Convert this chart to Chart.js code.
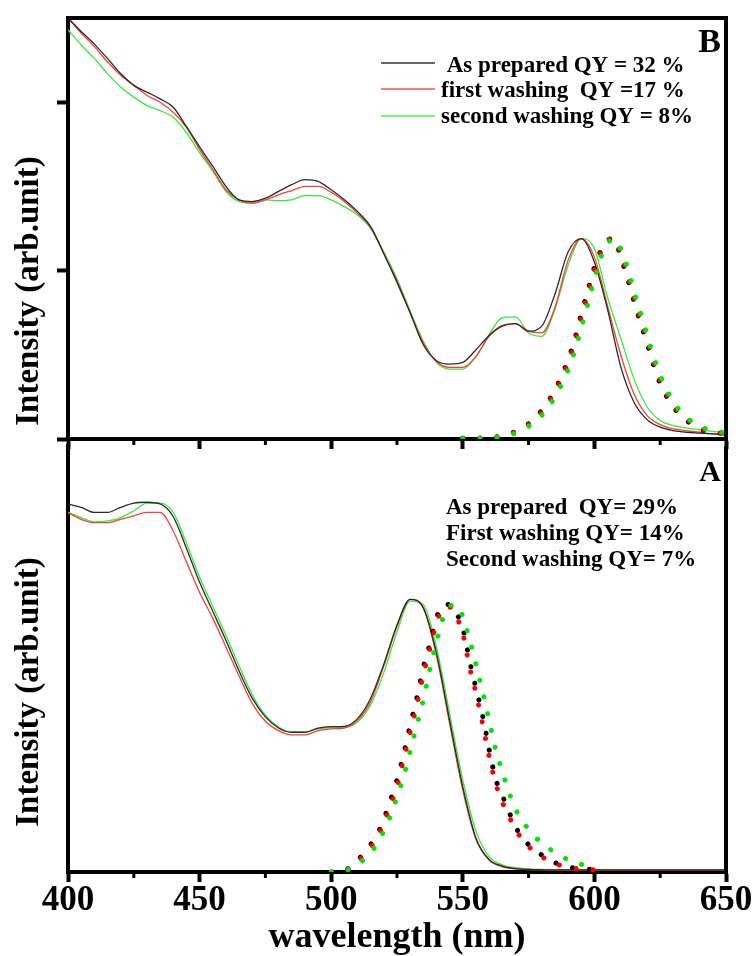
<!DOCTYPE html>
<html>
<head>
<meta charset="utf-8">
<title>Absorption and emission spectra</title>
<script src="https://cdn.jsdelivr.net/npm/chart.js@4.4.1/dist/chart.umd.min.js"></script>
<style>
  html, body { margin: 0; padding: 0; background: #ffffff; }
  #wrap { position: relative; width: 756px; height: 956px; overflow: hidden; }
  #panelB { position: absolute; left: 0; top: 0; }
  #panelA { position: absolute; left: 0; top: 440px; }
</style>
</head>
<body>
<div id="wrap">
  <canvas id="panelB" width="756" height="460"></canvas>
  <canvas id="panelA" width="756" height="516"></canvas>
</div>
<script>
// ---------- wavelength grids (nm) ----------
const wavelengthAbs = [400,405,410,415,420,425,430,435,440,445,450,455,460,465,470,475,480,485,490,495,
  500,505,510,515,520,525,530,535,540,545,550,555,560,565,570,575,580,585,590,595,
  600,605,610,615,620,625,630,635,640,645,650];
const wavelengthEmB = [550,555,560,565,570,575,580,585,590,592.5,595,597.5,600,602.5,605,607.5,
  610,612.5,615,617.5,620,622.5,625,630,635,640,645,650];
const wavelengthEmA = [500,502.5,505,507.5,510,512.5,515,517.5,520,522.5,525,527.5,530,532.5,535,537.5,
  540,542.5,545,547.5,550,552.5,555,557.5,560,562.5,565,567.5,570,575,580,585,590,595,600];

// ---------- panel B: absorption ----------
const absB_asPrepared = [2.50,2.42,2.345,2.26,2.17,2.10,2.06,2.02,1.97,1.855,1.735,1.62,1.50,1.42,1.41,1.43,1.47,1.51,1.54,1.53,
  1.48,1.42,1.35,1.26,1.10,0.93,0.75,0.56,0.465,0.445,0.455,0.53,0.615,0.67,0.685,0.64,0.67,0.86,1.11,1.19,
  1.05,0.77,0.43,0.22,0.115,0.07,0.05,0.04,0.035,0.03,0.025];
const absB_first = [2.50,2.41,2.33,2.24,2.16,2.10,2.04,2.00,1.94,1.85,1.72,1.60,1.48,1.42,1.40,1.42,1.45,1.475,1.50,1.50,
  1.465,1.41,1.34,1.26,1.10,0.94,0.75,0.57,0.46,0.425,0.425,0.49,0.61,0.675,0.685,0.64,0.63,0.78,1.06,1.19,
  1.08,0.79,0.50,0.27,0.14,0.085,0.06,0.05,0.04,0.03,0.025];
const absB_second = [2.43,2.34,2.26,2.17,2.09,2.03,1.98,1.95,1.91,1.82,1.70,1.59,1.47,1.41,1.40,1.42,1.415,1.42,1.445,1.445,
  1.42,1.38,1.33,1.25,1.11,0.95,0.76,0.58,0.455,0.415,0.415,0.49,0.62,0.72,0.725,0.63,0.61,0.77,1.03,1.19,
  1.13,0.84,0.60,0.36,0.19,0.11,0.08,0.065,0.055,0.045,0.035];

// ---------- panel B: emission ----------
const emB_asPrepared = [0.004,0.005,0.008,0.02,0.045,0.09,0.17,0.29,0.47,0.59,0.74,0.88,1.02,1.12,1.18,1.19,
  1.08,0.96,0.82,0.69,0.57,0.44,0.33,0.19,0.11,0.06,0.04,0.03];
const emB_first = [0.004,0.005,0.007,0.018,0.042,0.085,0.16,0.28,0.45,0.57,0.72,0.86,1.00,1.11,1.18,1.19,
  1.10,0.98,0.84,0.71,0.59,0.46,0.35,0.20,0.12,0.065,0.045,0.03];
const emB_second = [0.003,0.004,0.006,0.015,0.035,0.075,0.14,0.25,0.41,0.52,0.66,0.80,0.95,1.08,1.16,1.19,
  1.13,1.02,0.88,0.75,0.62,0.49,0.38,0.22,0.13,0.075,0.05,0.035];

// ---------- panel A: absorption ----------
const absA_asPrepared = [2.16,2.14,2.11,2.11,2.14,2.165,2.17,2.16,2.085,1.90,1.70,1.53,1.36,1.18,1.02,0.91,0.845,0.82,0.82,0.845,
  0.853,0.855,0.90,1.02,1.22,1.45,1.60,1.55,1.285,0.89,0.50,0.20,0.073,0.035,0.02,0.015,0.013,0.012,0.012,0.012,
  0.012,0.012,0.012,0.012,0.012,0.012,0.012,0.012,0.012,0.012,0.012];
const absA_first = [2.11,2.07,2.05,2.05,2.07,2.09,2.11,2.11,2.00,1.82,1.64,1.49,1.32,1.15,0.99,0.885,0.83,0.805,0.805,0.83,
  0.84,0.845,0.89,1.00,1.21,1.44,1.60,1.55,1.27,0.87,0.48,0.19,0.07,0.03,0.018,0.014,0.012,0.011,0.011,0.011,
  0.011,0.011,0.011,0.011,0.011,0.011,0.011,0.011,0.011,0.011,0.011];
const absA_second = [2.11,2.08,2.055,2.06,2.08,2.12,2.165,2.165,2.11,1.93,1.73,1.56,1.39,1.21,1.04,0.92,0.85,0.82,0.82,0.84,
  0.848,0.85,0.88,0.98,1.17,1.41,1.59,1.57,1.32,0.93,0.54,0.24,0.09,0.042,0.025,0.018,0.015,0.014,0.014,0.014,
  0.014,0.014,0.014,0.014,0.014,0.014,0.014,0.014,0.014,0.014,0.014];

// ---------- panel A: emission ----------
const emA_asPrepared = [0.0,0.003,0.01,0.03,0.07,0.11,0.16,0.22,0.31,0.42,0.54,0.69,0.86,1.02,1.20,1.34,
  1.49,1.57,1.57,1.52,1.43,1.245,1.08,0.92,0.72,0.545,0.45,0.355,0.265,0.16,0.10,0.055,0.03,0.02,0.015];
const emA_first = [0.0,0.002,0.008,0.025,0.06,0.10,0.145,0.20,0.29,0.39,0.50,0.66,0.82,0.98,1.16,1.31,
  1.46,1.55,1.555,1.50,1.40,1.21,1.05,0.87,0.68,0.52,0.41,0.33,0.25,0.15,0.09,0.05,0.028,0.018,0.012];
const emA_second = [0.0,0.003,0.008,0.02,0.04,0.075,0.11,0.17,0.24,0.33,0.44,0.56,0.71,0.86,1.01,1.19,
  1.35,1.49,1.56,1.57,1.50,1.37,1.22,1.06,0.89,0.72,0.59,0.47,0.37,0.25,0.17,0.115,0.072,0.045,0.03];

// ---------- axis ticks and labels ----------
const majorTicks = [400,450,500,550,600,650];
const minorTicks = [425,475,525,575,625];
const intensityTicks = [0,1,2];
const legendB = [' As prepared QY = 32 %', 'first washing  QY =17 %', 'second washing QY = 8%'];
const notesA = ['As prepared  QY= 29%', 'First washing QY= 14%', 'Second washing QY= 7%'];
const yTitle = 'Intensity (arb.unit)';
const xTitle = 'wavelength (nm)';

const SERIF = '"Liberation Serif", "Times New Roman", Times, serif';
const ABS_COLORS = ['#2a2a2a', '#ff3c3c', '#36ec36'];
const EM_COLORS = ['#000000', '#ff0000', '#00e600'];
const LEGEND_COLORS = ['#333333', '#ff5050', '#50f050'];

Chart.defaults.font.family = SERIF;
Chart.defaults.color = '#000';

const toPoints = (xs, ys) => xs.map((x, i) => ({ x: x, y: ys[i] }));

function absorption(label, xs, ys, color, order) {
  return {
    label, data: toPoints(xs, ys), borderColor: color, borderWidth: 1.3,
    pointRadius: 0, fill: false, cubicInterpolationMode: 'monotone', order
  };
}
function emission(label, xs, ys, color, order) {
  return {
    label, data: toPoints(xs, ys), borderColor: color, borderWidth: 5,
    borderDash: [0.1, 17], borderCapStyle: 'round',
    pointRadius: 0, fill: false, cubicInterpolationMode: 'monotone', order
  };
}

// extra drawing: frame edges, minor ticks, rotated axis title, panel letter, notes
function panelDecor(cfg) {
  return {
    id: 'panelDecor',
    afterDatasetsDraw(chart) {
      const { ctx, chartArea: a, scales } = chart;
      ctx.save();
      ctx.strokeStyle = '#000';
      ctx.lineCap = 'butt';
      ctx.lineWidth = 4;
      ctx.beginPath();
      if (cfg.topEdge) { ctx.moveTo(a.left - 2, a.top); ctx.lineTo(a.right + 2, a.top); }
      ctx.moveTo(a.right, a.top - (cfg.topEdge ? 2 : 0));
      ctx.lineTo(a.right, a.bottom + 2);
      ctx.stroke();

      ctx.lineWidth = 3;
      ctx.beginPath();
      minorTicks.forEach(v => {
        const px = scales.x.getPixelForValue(v);
        ctx.moveTo(px, a.bottom);
        ctx.lineTo(px, a.bottom + 6);
      });
      ctx.stroke();

      // y axis title
      ctx.fillStyle = '#000';
      ctx.font = 'bold 33px ' + SERIF;
      ctx.textAlign = 'center';
      ctx.textBaseline = 'alphabetic';
      ctx.save();
      ctx.translate(38, cfg.titleCenterY);
      ctx.rotate(-Math.PI / 2);
      ctx.fillText(yTitle, 0, 0);
      ctx.restore();

      // panel letter
      ctx.font = 'bold ' + cfg.letterSize + 'px ' + SERIF;
      ctx.textAlign = 'right';
      ctx.fillText(cfg.letter, 721, cfg.letterBaseline);

      // text rows (with optional line samples)
      ctx.font = 'bold 23px ' + SERIF;
      ctx.textAlign = 'left';
      cfg.rows.forEach((txt, i) => {
        if (cfg.samples) {
          ctx.strokeStyle = LEGEND_COLORS[i];
          ctx.lineWidth = 1.5;
          ctx.beginPath();
          ctx.moveTo(381, cfg.sampleY[i]);
          ctx.lineTo(435, cfg.sampleY[i]);
          ctx.stroke();
        }
        ctx.fillText(txt, cfg.textX, cfg.baselines[i]);
      });
      ctx.restore();
    }
  };
}

const tickGrid = len => ({
  display: true, drawOnChartArea: false, drawTicks: true,
  tickLength: len, tickWidth: 4, tickColor: '#000'
});
const axisBorder = { display: true, width: 4, color: '#000' };

// ---------- panel B ----------
new Chart(document.getElementById('panelB'), {
  type: 'line',
  data: {
    datasets: [
      absorption('As prepared', wavelengthAbs, absB_asPrepared, ABS_COLORS[0], 3),
      absorption('first washing', wavelengthAbs, absB_first, ABS_COLORS[1], 4),
      absorption('second washing', wavelengthAbs, absB_second, ABS_COLORS[2], 5),
      emission('As prepared PL', wavelengthEmB, emB_asPrepared, EM_COLORS[0], 2),
      emission('first washing PL', wavelengthEmB, emB_first, EM_COLORS[1], 1),
      emission('second washing PL', wavelengthEmB, emB_second, EM_COLORS[2], 0)
    ]
  },
  options: {
    responsive: false, animation: false, devicePixelRatio: 1,
    layout: { padding: { top: 18, right: 30, left: 0, bottom: 0 } },
    plugins: { legend: { display: false }, tooltip: { enabled: false } },
    scales: {
      x: {
        type: 'linear', position: 'bottom', min: 400, max: 650,
        afterBuildTicks: s => { s.ticks = majorTicks.map(v => ({ value: v })); },
        ticks: { display: false },
        grid: tickGrid(10), border: axisBorder,
        afterFit: s => { s.height = 21; }
      },
      y: {
        type: 'linear', position: 'left', min: 0, max: 2.5,
        afterBuildTicks: s => { s.ticks = intensityTicks.map(v => ({ value: v })); },
        ticks: { display: false },
        grid: tickGrid(11), border: axisBorder,
        afterFit: s => { s.width = 68; }
      }
    }
  },
  plugins: [panelDecor({
    topEdge: true, titleCenterY: 291, letter: 'B', letterSize: 34, letterBaseline: 52,
    rows: legendB, samples: true, sampleY: [63, 89, 116], textX: 441, baselines: [72, 97, 123]
  })]
});

// ---------- panel A ----------
new Chart(document.getElementById('panelA'), {
  type: 'line',
  data: {
    datasets: [
      absorption('As prepared', wavelengthAbs, absA_asPrepared, ABS_COLORS[0], 3),
      absorption('First washing', wavelengthAbs, absA_first, ABS_COLORS[1], 4),
      absorption('Second washing', wavelengthAbs, absA_second, ABS_COLORS[2], 5),
      emission('As prepared PL', wavelengthEmA, emA_asPrepared, EM_COLORS[0], 2),
      emission('First washing PL', wavelengthEmA, emA_first, EM_COLORS[1], 1),
      emission('Second washing PL', wavelengthEmA, emA_second, EM_COLORS[2], 0)
    ]
  },
  options: {
    responsive: false, animation: false, devicePixelRatio: 1,
    layout: { padding: { top: 6, right: 30, left: 0, bottom: 0 } },
    plugins: { legend: { display: false }, tooltip: { enabled: false } },
    scales: {
      x: {
        type: 'linear', position: 'bottom', min: 400, max: 650,
        afterBuildTicks: s => { s.ticks = majorTicks.map(v => ({ value: v })); },
        ticks: {
          display: true, autoSkip: false, maxRotation: 0, padding: 1, color: '#000',
          font: { family: SERIF, weight: 'bold', size: 35, lineHeight: 1 }
        },
        title: {
          display: true, text: xTitle, color: '#000', padding: 0,
          font: { family: SERIF, weight: 'bold', size: 36, lineHeight: 1 }
        },
        grid: tickGrid(10), border: axisBorder,
        afterFit: s => { s.height = 84; }
      },
      y: {
        type: 'linear', position: 'left', min: 0, max: 2.5,
        ticks: { display: false },
        grid: { display: false }, border: axisBorder,
        afterFit: s => { s.width = 68; }
      }
    }
  },
  plugins: [panelDecor({
    topEdge: false, titleCenterY: 252, letter: 'A', letterSize: 30, letterBaseline: 41,
    rows: notesA, samples: false, textX: 446, baselines: [74, 100, 126]
  })]
});
</script>
</body>
</html>
